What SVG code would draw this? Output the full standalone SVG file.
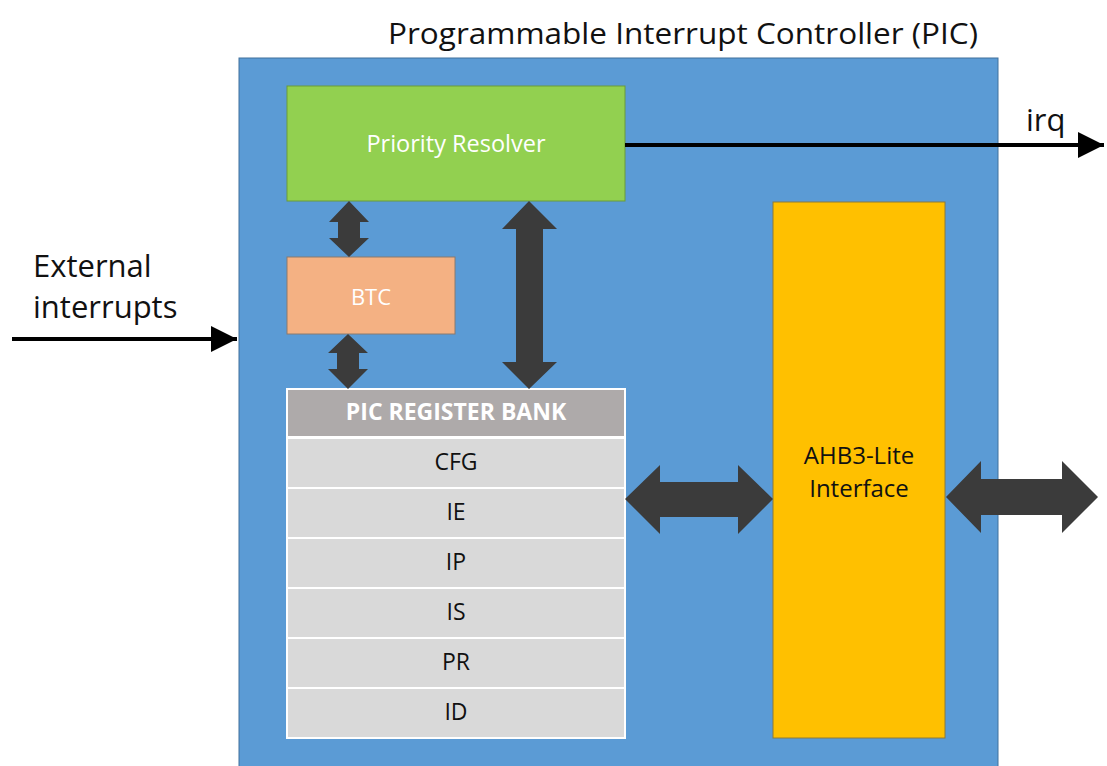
<svg xmlns="http://www.w3.org/2000/svg" width="1107" height="766" viewBox="0 0 1107 766">
<defs>
<style>
text{font-family:"Open Sans","Noto Sans","Liberation Sans",sans-serif;}
.lbl{font-size:31px;fill:#111;}
.in{font-size:23px;text-anchor:middle;}
.w{fill:#fff;}
.k{fill:#111;}
.row{fill:#D9D9D9;}
.ar{fill:#3B3B3B;}
.ln{stroke:#000;stroke-width:4;fill:none;}
</style>
<marker id="ah" viewBox="0 0 10 10" refX="10" refY="5" markerWidth="6.5" markerHeight="6.5" orient="auto" markerUnits="strokeWidth">
<path d="M0,0 L10,5 L0,10 Z" fill="#000"/>
</marker>
</defs>
<rect width="1107" height="766" fill="#fff"/>
<text class="lbl" x="388" y="44" textLength="590" lengthAdjust="spacingAndGlyphs" style="font-size:30px">Programmable Interrupt Controller (PIC)</text>
<g id="pic">
<rect x="239" y="58" width="759" height="710" fill="#5B9BD5" stroke="#41719C" stroke-width="1"/>
</g>
<g id="priority-resolver">
<rect x="287" y="86" width="338" height="115" fill="#92D050" stroke="#6A9B3A" stroke-width="1"/>
<text class="in w" x="456" y="152" style="font-size:23.5px">Priority Resolver</text>
</g>
<g id="btc">
<rect x="287" y="257" width="168" height="77" fill="#F4B183" stroke="#8A7A6E" stroke-width="1"/>
<text class="in w" x="371" y="305" style="font-size:22px">BTC</text>
</g>
<g id="register-bank">
<rect x="286" y="388" width="340" height="351" fill="#fff"/>
<rect x="288" y="390" width="336" height="46" fill="#AEAAAA"/>
<text class="in w" x="456" y="420" font-weight="bold">PIC REGISTER BANK</text>
<rect class="row" x="288" y="439" width="336" height="48"/>
<rect class="row" x="288" y="489" width="336" height="48"/>
<rect class="row" x="288" y="539" width="336" height="48"/>
<rect class="row" x="288" y="589" width="336" height="48"/>
<rect class="row" x="288" y="639" width="336" height="48"/>
<rect class="row" x="288" y="689" width="336" height="48"/>
<text class="in k" x="456" y="470">CFG</text>
<text class="in k" x="456" y="520">IE</text>
<text class="in k" x="456" y="570">IP</text>
<text class="in k" x="456" y="620">IS</text>
<text class="in k" x="456" y="670">PR</text>
<text class="in k" x="456" y="720">ID</text>
</g>
<g id="ahb3-lite">
<rect x="773" y="202" width="172" height="536" fill="#FFC000" stroke="#8C7A3A" stroke-width="1"/>
<text class="in k" x="859" y="464" style="font-size:24px">AHB3-Lite</text>
<text class="in k" x="859" y="497" style="font-size:24px">Interface</text>
</g>
<g id="connectors">
<path class="ar" d="M349,201 L369,222 L360,222 L360,238 L369,238 L349,257 L329,238 L338,238 L338,222 L329,222 Z"/>
<path class="ar" d="M348,334 L368,353 L359,353 L359,369 L368,369 L348,389 L328,369 L337,369 L337,353 L328,353 Z"/>
<path class="ar" d="M529,201 L557,229 L543,229 L543,362 L557,362 L529,389 L502,362 L516,362 L516,229 L502,229 Z"/>
<path class="ar" d="M625,499 L660,465 L660,482 L738,482 L738,465 L773,499 L738,534 L738,517 L660,517 L660,534 Z"/>
<path class="ar" d="M946,497 L981,461 L981,479 L1062,479 L1062,461 L1098,497 L1062,533 L1062,515 L981,515 L981,533 Z"/>
<line class="ln" x1="625" y1="145" x2="1104" y2="145" marker-end="url(#ah)"/>
<line class="ln" x1="12" y1="339" x2="237" y2="339" marker-end="url(#ah)"/>
</g>
<text class="lbl" x="1026" y="131">irq</text>
<text class="lbl" x="33" y="277">External</text>
<text class="lbl" x="33" y="318">interrupts</text>
</svg>
